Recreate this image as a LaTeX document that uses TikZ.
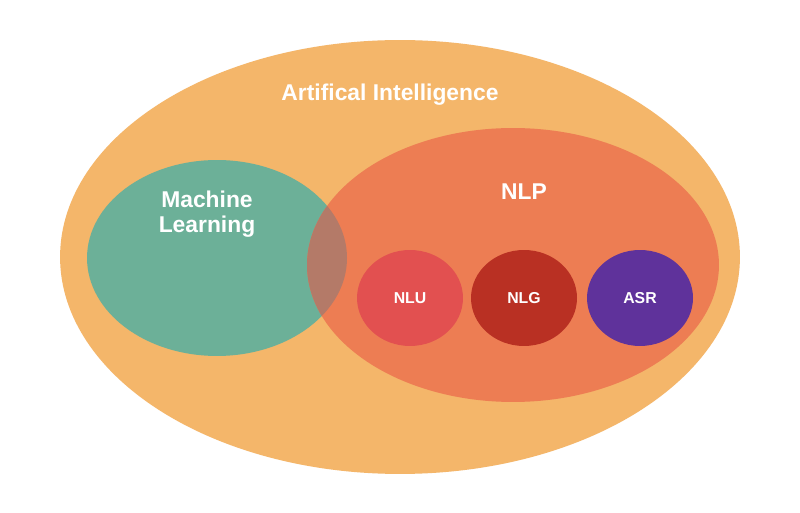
\documentclass[tikz,border=0pt]{standalone}
\usepackage{fontspec}
\setmainfont{Liberation Sans}
\usetikzlibrary{shapes.geometric}
\definecolor{aicol}{RGB}{244,182,106}
\definecolor{mlcol}{RGB}{108,176,152}
\definecolor{nlpcol}{RGB}{237,125,83}
\definecolor{mixcol}{RGB}{180,122,104}
\definecolor{nlucol}{RGB}{226,80,80}
\definecolor{nlgcol}{RGB}{185,48,35}
\definecolor{asrcol}{RGB}{95,50,155}
\begin{document}
\begin{tikzpicture}[x=0.02cm,y=0.02cm]
\tikzstyle{blob}=[ellipse,inner sep=0pt]
\tikzstyle{big}=[text=white,font=\bfseries\fontsize{13}{14}\selectfont,align=center]
\tikzstyle{small}=[text=white,font=\bfseries\fontsize{9}{11}\selectfont]
\useasboundingbox (0,0) rectangle (800,513);
\fill[white] (0,0) rectangle (800,513);
\node[blob,fill=aicol,minimum width=13.6cm,minimum height=8.68cm] (ai) at (400,256) {};
\node[blob,fill=mlcol,minimum width=5.2cm,minimum height=3.92cm] (ml) at (217,255) {};
\node[blob,fill=nlpcol,minimum width=8.24cm,minimum height=5.48cm] (nlp) at (513,248) {};
\begin{scope}
\clip (ml.center) ellipse [x radius=130,y radius=98];
\fill[mixcol] (nlp.center) ellipse [x radius=206,y radius=137];
\end{scope}
\node[blob,fill=nlucol,minimum width=2.12cm,minimum height=1.92cm] (nlu) at (410,215) {};
\node[blob,fill=nlgcol,minimum width=2.12cm,minimum height=1.92cm] (nlg) at (524,215) {};
\node[blob,fill=asrcol,minimum width=2.12cm,minimum height=1.92cm] (asr) at (640,215) {};
\node[big] (ait) at (390,418) {Artifical Intelligence};
\node[big] (mlt) at (207,299) {Machine\\Learning};
\node[big] (nlpt) at (524,321) {NLP};
\node[small] (nlut) at (nlu.center) {NLU};
\node[small] (nlgt) at (nlg.center) {NLG};
\node[small] (asrt) at (asr.center) {ASR};
\end{tikzpicture}
\end{document}
